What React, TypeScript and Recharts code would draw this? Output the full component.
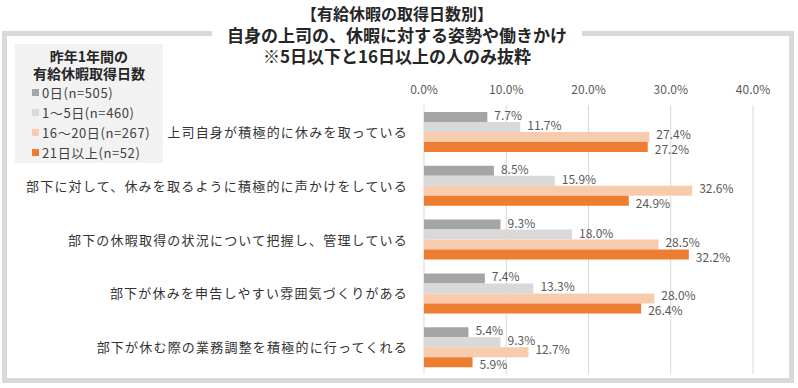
import React from 'react';
import {
  BarChart,
  Bar,
  XAxis,
  YAxis,
  CartesianGrid,
  Legend,
  LabelList,
} from 'recharts';

const FONT = '"Noto Sans CJK JP", "Noto Sans", sans-serif';

const categories = [
  '上司自身が積極的に休みを取っている',
  '部下に対して、休みを取るように積極的に声かけをしている',
  '部下の休暇取得の状況について把握し、管理している',
  '部下が休みを申告しやすい雰囲気づくりがある',
  '部下が休む際の業務調整を積極的に行ってくれる',
];

const days0 = [7.7, 8.5, 9.3, 7.4, 5.4];
const days1to5 = [11.7, 15.9, 18.0, 13.3, 9.3];
const days16to20 = [27.4, 32.6, 28.5, 28.0, 12.7];
const days21plus = [27.2, 24.9, 32.2, 26.4, 5.9];

const xTicks = [0, 10, 20, 30, 40];

// dy nudges the value labels a little, like the original's overlapping labels
const series = [
  { key: 'd0', name: '0日(n=505)', color: '#a5a5a5', dy: -1 },
  { key: 'd1', name: '1～5日(n=460)', color: '#d9d9d9', dy: -1 },
  { key: 'd16', name: '16～20日(n=267)', color: '#f8cbad', dy: -2 },
  { key: 'd21', name: '21日以上(n=52)', color: '#ed7d31', dy: 3 },
];

const data = categories.map((name, i) => ({
  name,
  d0: days0[i],
  d1: days1to5[i],
  d16: days16to20[i],
  d21: days21plus[i],
}));

const pct = (v: unknown) => `${Number(v).toFixed(1)}%`;

function CategoryTick(props: any) {
  const { x, y, payload } = props;
  return (
    <text
      x={x}
      y={y}
      dy={5}
      textAnchor="end"
      fill="#333333"
      fontSize={13}
      letterSpacing={1.2}
      fontFamily={FONT}
    >
      {payload.value}
    </text>
  );
}

function makeValueLabel(dy: number) {
  return (props: any) => {
    const { x, y, width, height, value } = props;
    return (
      <text
        x={x + width + 7}
        y={y + height / 2 + dy}
        dy={4}
        fill="#595959"
        fontSize={12}
        fontFamily={FONT}
      >
        {pct(value)}
      </text>
    );
  };
}

function LegendBox() {
  return (
    <div
      style={{
        background: '#f2f2f2',
        width: 148,
        height: 119,
        fontFamily: FONT,
        color: '#404040',
        boxSizing: 'border-box',
        paddingTop: 4,
      }}
    >
      <div style={{ textAlign: 'center', fontWeight: 700, fontSize: 14, lineHeight: '17px', color: '#262626' }}>
        昨年1年間の
        <br />
        有給休暇取得日数
      </div>
      {series.map(s => (
        <div
          key={s.key}
          style={{ display: 'flex', alignItems: 'center', height: 20, paddingLeft: 17, fontSize: 13, letterSpacing: 0.6 }}
        >
          <span style={{ width: 7, height: 7, background: s.color, marginRight: 3, display: 'inline-block' }} />
          <span>{s.name}</span>
        </div>
      ))}
    </div>
  );
}

export default function App() {
  return (
    <div style={{ position: 'absolute', left: 0, top: 0, width: 798, height: 388, background: '#fff' }}>
      <div
        style={{
          position: 'absolute',
          left: 2,
          top: 31,
          width: 792,
          height: 352,
          border: '5px solid #d9d9d9',
          boxSizing: 'border-box',
        }}
      />
      <div
        style={{
          position: 'absolute',
          left: 212,
          top: 3,
          width: 370,
          background: '#fff',
          textAlign: 'center',
          fontFamily: FONT,
          fontWeight: 700,
          lineHeight: '21px',
          color: '#262626',
          zIndex: 2,
        }}
      >
        <div style={{ fontSize: 16 }}>【有給休暇の取得日数別】</div>
        <div style={{ fontSize: 17 }}>自身の上司の、休暇に対する姿勢や働きかけ</div>
        <div style={{ fontSize: 17 }}>※5日以下と16日以上の人のみ抜粋</div>
      </div>
      <div style={{ position: 'absolute', left: 0, top: 0 }}>
        <BarChart
          width={798}
          height={388}
          data={data}
          layout="vertical"
          margin={{ top: 75, right: 45, bottom: 14, left: 0 }}
          barGap={0}
          barSize={10}
        >
          <CartesianGrid horizontal={false} stroke="#d9d9d9" />
          <XAxis
            type="number"
            orientation="top"
            domain={[0, 40]}
            ticks={xTicks}
            tickFormatter={pct}
            axisLine={false}
            tickLine={false}
            tickMargin={5}
            tick={{ fill: '#595959', fontSize: 12, fontFamily: FONT }}
          />
          <YAxis
            type="category"
            dataKey="name"
            width={424}
            axisLine={false}
            tickLine={false}
            tickMargin={10}
            tick={<CategoryTick />}
          />
          <Legend
            layout="horizontal"
            verticalAlign="middle"
            align="center"
            wrapperStyle={{ position: 'absolute', left: 15, top: 44, width: 148 }}
            content={() => <LegendBox />}
          />
          {series.map(s => (
            <Bar key={s.key} dataKey={s.key} name={s.name} fill={s.color} isAnimationActive={false}>
              <LabelList dataKey={s.key} content={makeValueLabel(s.dy)} />
            </Bar>
          ))}
        </BarChart>
      </div>
    </div>
  );
}
